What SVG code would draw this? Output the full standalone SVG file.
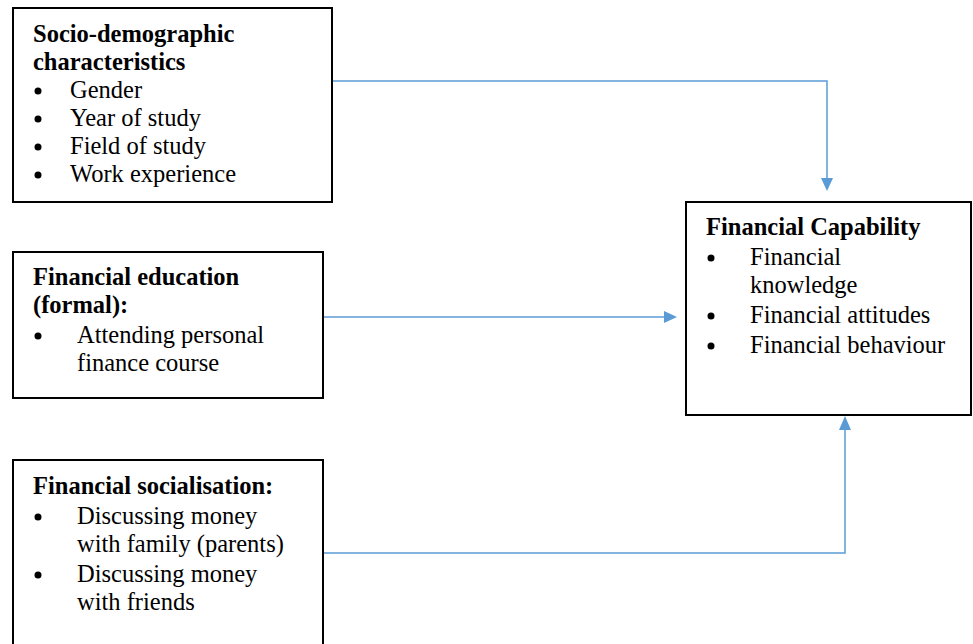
<svg xmlns="http://www.w3.org/2000/svg" width="973" height="644" viewBox="0 0 973 644">
<style>
.box{fill:#fff;stroke:#000;stroke-width:2}
.t{font-family:"Liberation Serif","Times New Roman",serif;font-size:24.5px;fill:#000}
.b{font-weight:bold}
.bul{fill:#000}
.c{fill:none;stroke:#5B9BD5;stroke-width:1.5}
.ah{fill:#5B9BD5}
</style>
<rect width="973" height="644" fill="#fff"/>
<g id="connectors">
<path class="c" d="M332,81 H827 V178"/>
<polygon class="ah" points="821,178 833,178 827,191"/>
<path class="c" d="M323,317 H664"/>
<polygon class="ah" points="664,311 664,323 677,317"/>
<path class="c" d="M323,553 H845 V429"/>
<polygon class="ah" points="839,430 851,430 845,416"/>
</g>
<g id="socio">
<rect class="box" x="13" y="8" width="319" height="194"/>
<text class="t b" x="33" y="42">Socio-demographic</text>
<text class="t b" x="33" y="70">characteristics</text>
<circle class="bul" cx="38" cy="91" r="3.5"/><text class="t" x="70" y="98">Gender</text>
<circle class="bul" cx="38" cy="119" r="3.5"/><text class="t" x="70" y="126">Year of study</text>
<circle class="bul" cx="38" cy="147" r="3.5"/><text class="t" x="70" y="154">Field of study</text>
<circle class="bul" cx="38" cy="175" r="3.5"/><text class="t" x="70" y="182">Work experience</text>
</g>
<g id="education">
<rect class="box" x="13" y="252" width="310" height="146"/>
<text class="t b" x="33" y="285">Financial education</text>
<text class="t b" x="33" y="313">(formal):</text>
<circle class="bul" cx="38" cy="336" r="3.5"/><text class="t" x="77" y="343">Attending personal</text>
<text class="t" x="77" y="371">finance course</text>
</g>
<g id="socialisation">
<rect class="box" x="13" y="460" width="310" height="190"/>
<text class="t b" x="33" y="494">Financial socialisation:</text>
<circle class="bul" cx="38" cy="517" r="3.5"/><text class="t" x="77" y="524">Discussing money</text>
<text class="t" x="77" y="552">with family (parents)</text>
<circle class="bul" cx="38" cy="575" r="3.5"/><text class="t" x="77" y="582">Discussing money</text>
<text class="t" x="77" y="610">with friends</text>
</g>
<g id="capability">
<rect class="box" x="686" y="202" width="285" height="213"/>
<text class="t b" x="706" y="235">Financial Capability</text>
<circle class="bul" cx="711" cy="258" r="3.5"/><text class="t" x="750" y="265">Financial</text>
<text class="t" x="750" y="293">knowledge</text>
<circle class="bul" cx="711" cy="316" r="3.5"/><text class="t" x="750" y="323">Financial attitudes</text>
<circle class="bul" cx="711" cy="346" r="3.5"/><text class="t" x="750" y="353">Financial behaviour</text>
</g>
</svg>
